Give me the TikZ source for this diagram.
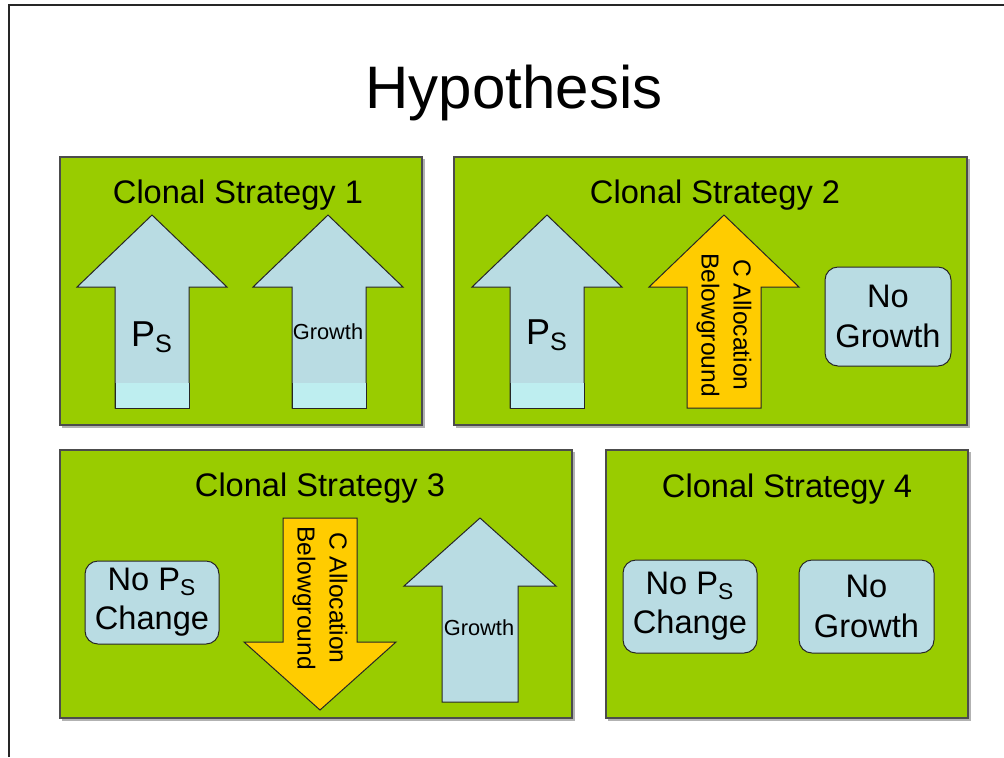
\documentclass[tikz,border=0pt]{standalone}
\usepackage{fontspec}
\setmainfont{Liberation Sans}
\usetikzlibrary{positioning}

\definecolor{leafgreen}{HTML}{99CC00}
\definecolor{paleblue}{HTML}{B9DCE3}
\definecolor{palecyan}{HTML}{BEEEF0}
\definecolor{goldfill}{HTML}{FFCC00}

\tikzset{
  panel/.style={fill=leafgreen, draw=black!70, line width=0.6pt},
  panelshadow/.style={draw=black!30, line width=0.8pt},
  bluearrow/.style={fill=paleblue, draw=black!85, line width=0.5pt},
  goldarrow/.style={fill=goldfill, draw=black!85, line width=0.5pt},
  statebox/.style={fill=paleblue, draw=black!85, line width=0.5pt, rounded corners=6.5pt,
    align=center, inner sep=0pt, font=\fontsize{16.3}{19.6}\selectfont},
  paneltitle/.style={anchor=base, font=\fontsize{16.3}{19.6}\selectfont},
  pslabel/.style={font=\fontsize{18}{21}\selectfont},
  growthlabel/.style={font=\fontsize{10.9}{13}\selectfont},
  alloclabel/.style={rotate=-90, align=center, font=\fontsize{12.3}{16}\selectfont},
}

\begin{document}
\begin{tikzpicture}[x=0.5pt, y=-0.5pt]
    \useasboundingbox (0,0) rectangle (1004,757);
    % slide edge
    \draw[line width=1pt, black!85] (9,757) -- (9,5) -- (1004,5);
    \node[anchor=base, font=\fontsize{30}{36}\selectfont] (title) at (514,108) {Hypothesis};

    % Clonal Strategy 1
    \draw[panelshadow] (62,427) -- (424,427) -- (424,159);
    \draw[panel] (60,157) rectangle (422,425);
    \node[paneltitle] (cs1) at (238,203) {Clonal Strategy 1};
    \draw[bluearrow] (115,408) -- (115,287) -- (77,287) -- (152,215) -- (227,287) -- (189,287) -- (189,408) -- cycle;
    \fill[palecyan] (115,383) rectangle (189,408);
    \draw[black!85, line width=0.5pt] (115,383) -- (115,408) -- (189,408) -- (189,383);
    \draw[bluearrow] (292,408) -- (292,287) -- (253,287) -- (328,215) -- (403,287) -- (366,287) -- (366,408) -- cycle;
    \fill[palecyan] (292,383) rectangle (366,408);
    \draw[black!85, line width=0.5pt] (292,383) -- (292,408) -- (366,408) -- (366,383);
    \node[pslabel] (ps1) at (152,337) {P\textsubscript{S}};
    \node[growthlabel] (grow1) at (328,332) {Growth};

    % Clonal Strategy 2
    \draw[panelshadow] (456,427) -- (969,427) -- (969,159);
    \draw[panel] (454,157) rectangle (967,425);
    \node[paneltitle] (cs2) at (715,203) {Clonal Strategy 2};
    \draw[bluearrow] (510,408) -- (510,287) -- (472,287) -- (547,215) -- (622,287) -- (584,287) -- (584,408) -- cycle;
    \fill[palecyan] (510,383) rectangle (584,408);
    \draw[black!85, line width=0.5pt] (510,383) -- (510,408) -- (584,408) -- (584,383);
    \node[pslabel] (ps2) at (547,335) {P\textsubscript{S}};
    \draw[goldarrow] (687,408) -- (687,287) -- (649,287) -- (724,215) -- (799,287) -- (761,287) -- (761,408) -- cycle;
    \node[alloclabel] (alloc2) at (724,325) {C Allocation\\Belowground};
    \node[statebox, minimum width=63pt, minimum height=49.5pt] (nogrow2) at (888,316.5) {No\\Growth};

    % Clonal Strategy 3
    \draw[panelshadow] (62,720) -- (574,720) -- (574,452);
    \draw[panel] (60,450) rectangle (572,718);
    \node[paneltitle] (cs3) at (320,496) {Clonal Strategy 3};
    \node[statebox, minimum width=67pt, minimum height=41.5pt] (nops3) at (152,602.5) {No P\textsubscript{S}\\Change};
    \draw[goldarrow] (283,518) -- (357,518) -- (357,642) -- (396,642) -- (320,710) -- (244,642) -- (283,642) -- cycle;
    \node[alloclabel] (alloc3) at (320,598) {C Allocation\\Belowground};
    \draw[bluearrow] (442,702) -- (442,586) -- (404,586) -- (480,518) -- (556,586) -- (518,586) -- (518,702) -- cycle;
    \node[growthlabel] (grow3) at (479,628) {Growth};

    % Clonal Strategy 4
    \draw[panelshadow] (608,720) -- (970,720) -- (970,452);
    \draw[panel] (606,450) rectangle (968,718);
    \node[paneltitle] (cs4) at (787,497) {Clonal Strategy 4};
    \node[statebox, minimum width=67pt, minimum height=46.5pt] (nops4) at (690,606.5) {No P\textsubscript{S}\\Change};
    \node[statebox, minimum width=67.5pt, minimum height=46.5pt] (nogrow4) at (866.5,606.5) {No\\Growth};
\end{tikzpicture}
\end{document}
